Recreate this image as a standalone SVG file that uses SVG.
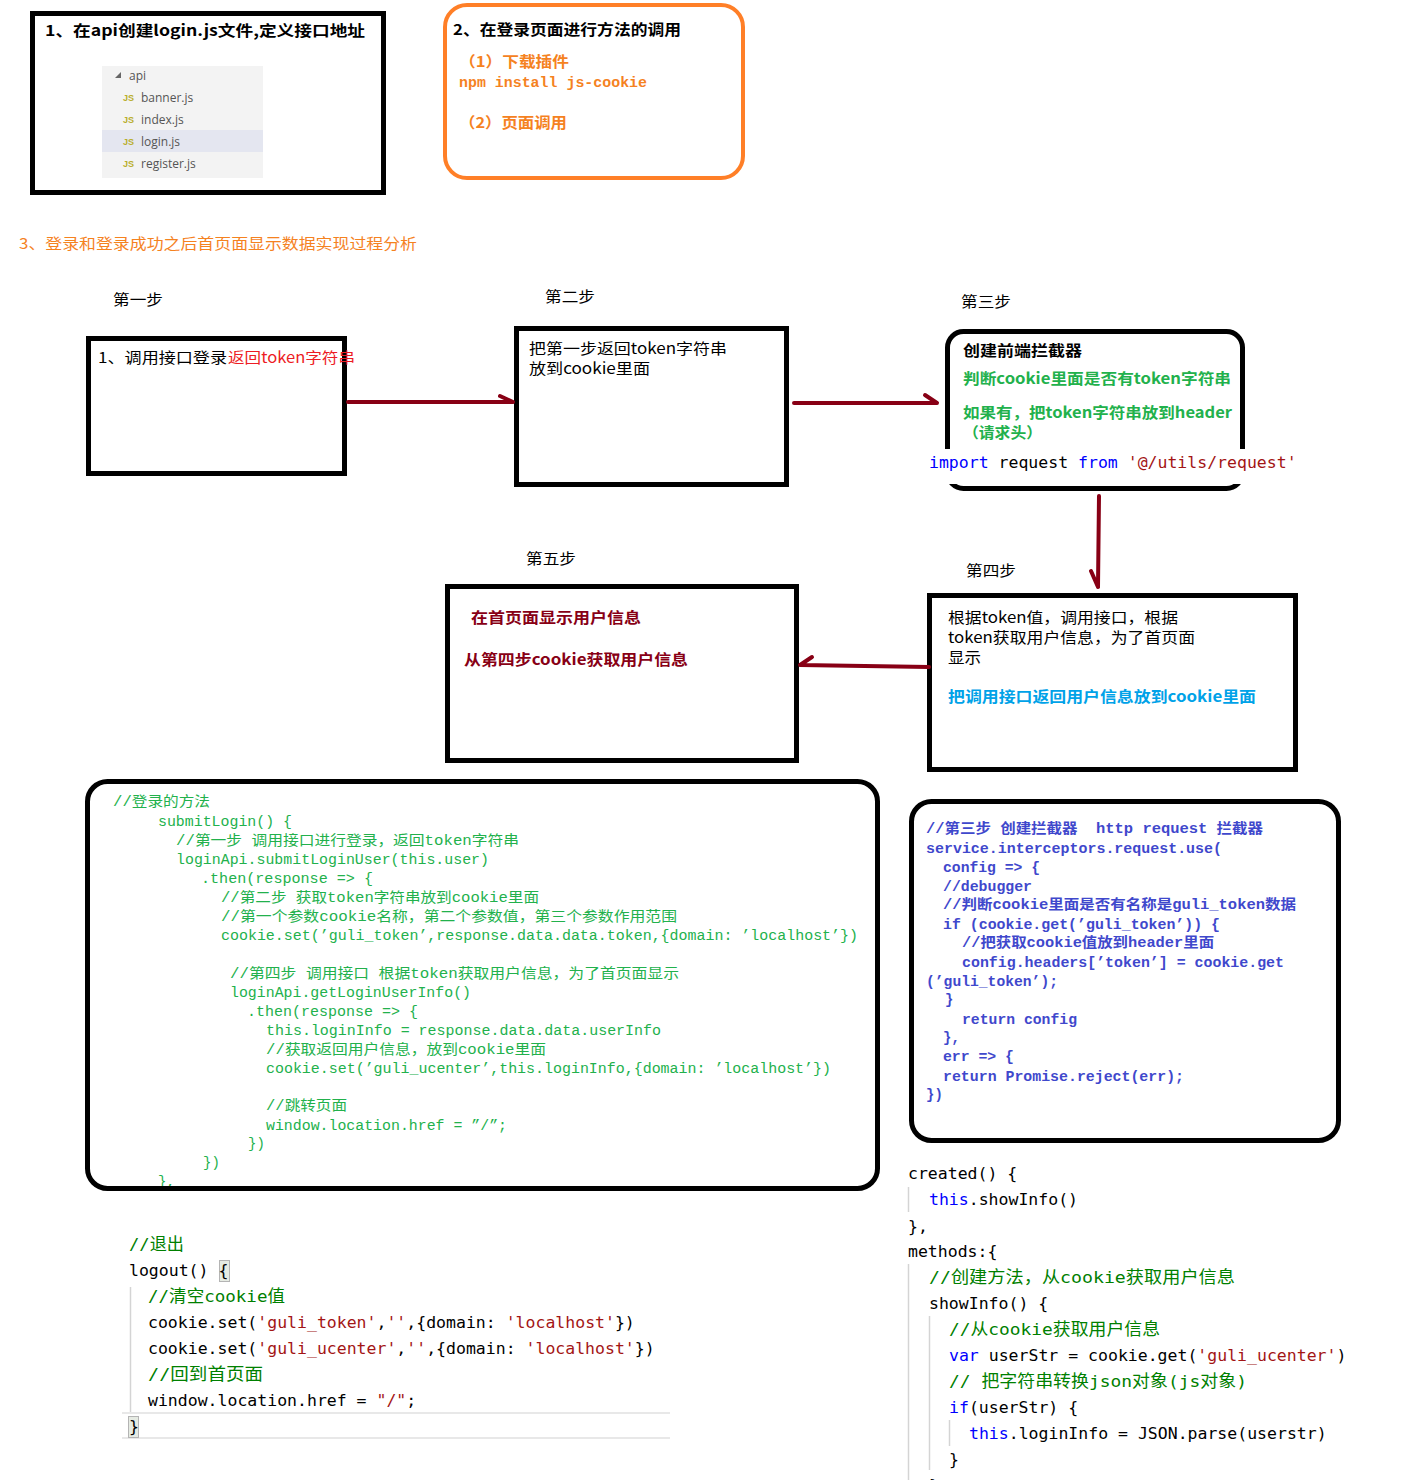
<svg xmlns="http://www.w3.org/2000/svg" width="1421" height="1480" viewBox="0 0 1421 1480">
<defs>
<style>
.cjk{font-family:"Noto Sans CJK SC","Liberation Sans",sans-serif;font-size:15px;}
.b{font-weight:700;}
.box{fill:none;stroke:#000;stroke-width:5;}
.step{font-family:"Noto Sans CJK SC","Liberation Sans",sans-serif;font-size:15px;}
.red{fill:#ed1c24;}
.dred{fill:#880015;}
.sky{fill:#00a2e8;}
.grn{fill:#22b14c;}
.org{fill:#f5821f;}
.tree{font-family:"Open Sans","Liberation Sans",sans-serif;font-size:12px;fill:#555;}
.jsi{font-family:"Liberation Sans",sans-serif;font-size:9px;font-weight:700;fill:#b9ae2c;}
.lc{font-family:"Liberation Mono","Noto Sans CJK SC",monospace;font-size:14px;fill:#22b14c;}
.rc{font-family:"Liberation Mono","Noto Sans CJK SC",monospace;font-size:14px;font-weight:700;fill:#3f48cc;}
.mono{font-family:"DejaVu Sans Mono","Liberation Mono","Noto Sans CJK SC",monospace;font-size:16.5px;fill:#000;}
.cm{fill:#008000;}
.str{fill:#a31515;}
.kw{fill:#0000ff;}
.guide{stroke:#d4d4d4;stroke-width:1.5;fill:none;}
.arr{stroke:#880015;stroke-width:4;stroke-linecap:round;fill:none;}
</style>
</defs>
<rect x="0" y="0" width="1421" height="1480" fill="#fff"/>

<g id="node-api-file">
<rect class="box" x="32.5" y="13.5" width="351" height="179"/>
<text class="cjk b" x="45" y="36" textLength="320" lengthAdjust="spacingAndGlyphs">1、在api创建login.js文件,定义接口地址</text>
<rect x="102" y="66" width="161" height="112" fill="#f3f3f3"/>
<rect x="102" y="130" width="161" height="22" fill="#e4e6f0"/>
<polygon points="121,72 121,78 115,78" fill="#666"/>
<text class="tree" x="129" y="80">api</text>
<text class="jsi" x="123" y="101">JS</text><text class="tree" x="141" y="102">banner.js</text>
<text class="jsi" x="123" y="123">JS</text><text class="tree" x="141" y="124">index.js</text>
<text class="jsi" x="123" y="145">JS</text><text class="tree" x="141" y="146">login.js</text>
<text class="jsi" x="123" y="167">JS</text><text class="tree" x="141" y="168">register.js</text>
</g>

<g id="node-page-call">
<rect x="445" y="5" width="298" height="173" rx="22" fill="none" stroke="#ff7f27" stroke-width="4"/>
<text class="cjk b" x="453" y="35" textLength="228" lengthAdjust="spacingAndGlyphs">2、在登录页面进行方法的调用</text>
<text class="cjk b org" x="459" y="67" textLength="110" lengthAdjust="spacingAndGlyphs">（1）下载插件</text>
<text class="org" x="459" y="87" font-family="Liberation Mono,monospace" font-size="14" font-weight="700" textLength="188" lengthAdjust="spacingAndGlyphs">npm install js-cookie</text>
<text class="cjk b org" x="459" y="128" textLength="108" lengthAdjust="spacingAndGlyphs">（2）页面调用</text>
</g>

<g id="heading">
<text class="cjk org" x="19" y="249" textLength="398" lengthAdjust="spacingAndGlyphs">3、登录和登录成功之后首页面显示数据实现过程分析</text>
<text class="step" x="113" y="305" textLength="50" lengthAdjust="spacingAndGlyphs">第一步</text>
<text class="step" x="545" y="302" textLength="50" lengthAdjust="spacingAndGlyphs">第二步</text>
<text class="step" x="961" y="307" textLength="50" lengthAdjust="spacingAndGlyphs">第三步</text>
<text class="step" x="966" y="576" textLength="50" lengthAdjust="spacingAndGlyphs">第四步</text>
<text class="step" x="526" y="564" textLength="50" lengthAdjust="spacingAndGlyphs">第五步</text>
</g>

<g id="node-step1">
<rect class="box" x="88.5" y="338.5" width="256" height="135"/>
<text class="step" x="98" y="363" textLength="129" lengthAdjust="spacingAndGlyphs">1、调用接口登录</text>
<text class="step red" x="228" y="363" textLength="127" lengthAdjust="spacingAndGlyphs">返回token字符串</text>
</g>

<g id="node-step2">
<rect class="box" x="516.5" y="328.5" width="270" height="156"/>
<text class="step" x="529" y="354" textLength="198" lengthAdjust="spacingAndGlyphs">把第一步返回token字符串</text>
<text class="step" x="529" y="374" textLength="121" lengthAdjust="spacingAndGlyphs">放到cookie里面</text>
</g>

<g id="node-step3">
<rect class="box" x="947.5" y="331.5" width="295" height="157" rx="16"/>
<rect x="924" y="449" width="378" height="35" fill="#fff"/>
<text class="cjk b" x="963" y="356" textLength="119" lengthAdjust="spacingAndGlyphs">创建前端拦截器</text>
<text class="cjk b grn" x="963" y="384" textLength="268" lengthAdjust="spacingAndGlyphs">判断cookie里面是否有token字符串</text>
<text class="cjk b grn" x="963" y="418" textLength="269" lengthAdjust="spacingAndGlyphs">如果有，把token字符串放到header</text>
<text class="cjk b grn" x="963" y="438" textLength="79" lengthAdjust="spacingAndGlyphs">（请求头）</text>
<text class="mono" x="929" y="468" xml:space="preserve"><tspan class="kw">import</tspan> request <tspan class="kw">from</tspan> <tspan class="str">'@/utils/request'</tspan></text>
</g>

<g id="node-step4">
<rect class="box" x="929.5" y="595.5" width="366" height="174"/>
<text class="step" x="948" y="623" textLength="230" lengthAdjust="spacingAndGlyphs">根据token值，调用接口，根据</text>
<text class="step" x="948" y="643" textLength="247" lengthAdjust="spacingAndGlyphs">token获取用户信息，为了首页面</text>
<text class="step" x="948" y="663" textLength="33" lengthAdjust="spacingAndGlyphs">显示</text>
<text class="step b sky" x="948" y="702" textLength="308" lengthAdjust="spacingAndGlyphs">把调用接口返回用户信息放到cookie里面</text>
</g>

<g id="node-step5">
<rect class="box" x="447.5" y="586.5" width="349" height="174"/>
<text class="step b dred" x="471" y="623" textLength="170" lengthAdjust="spacingAndGlyphs">在首页面显示用户信息</text>
<text class="step b dred" x="464" y="665" textLength="224" lengthAdjust="spacingAndGlyphs">从第四步cookie获取用户信息</text>
</g>

<g id="connectors">
<path class="arr" d="M348,402 L513,402 M513,402 L500,396"/>
<path class="arr" d="M794,403 L937,403 M937,403 L925,395"/>
<path class="arr" d="M1099,496 L1098,587 M1098,587 L1091,571"/>
<path class="arr" d="M929,667 L800,665 M800,665 L812,657"/>
</g>

<g id="node-login-code">
<text class="lc" x="113" y="806" textLength="97" lengthAdjust="spacingAndGlyphs">//登录的方法</text>
<text class="lc" x="158" y="826" textLength="134" lengthAdjust="spacingAndGlyphs">submitLogin() {</text>
<text class="lc" x="176" y="845" textLength="343" lengthAdjust="spacingAndGlyphs">//第一步 调用接口进行登录，返回token字符串</text>
<text class="lc" x="176" y="864" textLength="313" lengthAdjust="spacingAndGlyphs">loginApi.submitLoginUser(this.user)</text>
<text class="lc" x="201" y="883" textLength="172" lengthAdjust="spacingAndGlyphs">.then(response =&gt; {</text>
<text class="lc" x="221" y="902" textLength="318" lengthAdjust="spacingAndGlyphs">//第二步 获取token字符串放到cookie里面</text>
<text class="lc" x="221" y="921" textLength="456" lengthAdjust="spacingAndGlyphs">//第一个参数cookie名称，第二个参数值，第三个参数作用范围</text>
<text class="lc" x="221" y="940" textLength="637" lengthAdjust="spacingAndGlyphs">cookie.set(’guli_token’,response.data.data.token,{domain: ’localhost’})</text>
<text class="lc" x="230" y="978" textLength="449" lengthAdjust="spacingAndGlyphs">//第四步 调用接口 根据token获取用户信息，为了首页面显示</text>
<text class="lc" x="230" y="997" textLength="241" lengthAdjust="spacingAndGlyphs">loginApi.getLoginUserInfo()</text>
<text class="lc" x="247" y="1016" textLength="171" lengthAdjust="spacingAndGlyphs">.then(response =&gt; {</text>
<text class="lc" x="266" y="1035" textLength="395" lengthAdjust="spacingAndGlyphs">this.loginInfo = response.data.data.userInfo</text>
<text class="lc" x="266" y="1054" textLength="280" lengthAdjust="spacingAndGlyphs">//获取返回用户信息，放到cookie里面</text>
<text class="lc" x="266" y="1073" textLength="565" lengthAdjust="spacingAndGlyphs">cookie.set(’guli_ucenter’,this.loginInfo,{domain: ’localhost’})</text>
<text class="lc" x="266" y="1110" textLength="81" lengthAdjust="spacingAndGlyphs">//跳转页面</text>
<text class="lc" x="266" y="1130" textLength="241" lengthAdjust="spacingAndGlyphs">window.location.href = ”/”;</text>
<text class="lc" x="248" y="1148">})</text>
<text class="lc" x="203" y="1167">})</text>
<text class="lc" x="158" y="1186">},</text>
<rect class="box" x="87.5" y="781.5" width="790" height="407" rx="20"/>
</g>

<g id="node-interceptor-code">
<rect class="box" x="911.5" y="801.5" width="427" height="339" rx="20"/>
<text class="rc" x="926" y="833" textLength="337" lengthAdjust="spacingAndGlyphs" xml:space="preserve">//第三步 创建拦截器  http request 拦截器</text>
<text class="rc" x="926" y="853" textLength="296" lengthAdjust="spacingAndGlyphs">service.interceptors.request.use(</text>
<text class="rc" x="943" y="872" textLength="97" lengthAdjust="spacingAndGlyphs">config =&gt; {</text>
<text class="rc" x="943" y="891" textLength="89" lengthAdjust="spacingAndGlyphs">//debugger</text>
<text class="rc" x="943" y="909" textLength="353" lengthAdjust="spacingAndGlyphs">//判断cookie里面是否有名称是guli_token数据</text>
<text class="rc" x="943" y="929" textLength="277" lengthAdjust="spacingAndGlyphs">if (cookie.get(’guli_token’)) {</text>
<text class="rc" x="962" y="947" textLength="252" lengthAdjust="spacingAndGlyphs">//把获取cookie值放到header里面</text>
<text class="rc" x="962" y="967" textLength="322" lengthAdjust="spacingAndGlyphs">config.headers[’token’] = cookie.get</text>
<text class="rc" x="926" y="986" textLength="132" lengthAdjust="spacingAndGlyphs">(’guli_token’);</text>
<text class="rc" x="945" y="1004">}</text>
<text class="rc" x="962" y="1024" textLength="115" lengthAdjust="spacingAndGlyphs">return config</text>
<text class="rc" x="943" y="1042">},</text>
<text class="rc" x="943" y="1061" textLength="71" lengthAdjust="spacingAndGlyphs">err =&gt; {</text>
<text class="rc" x="943" y="1081" textLength="241" lengthAdjust="spacingAndGlyphs">return Promise.reject(err);</text>
<text class="rc" x="926" y="1099">})</text>
</g>

<g id="node-logout-code">
<line class="guide" x1="130.5" y1="1287" x2="130.5" y2="1413"/>
<line x1="122" y1="1413" x2="670" y2="1413" stroke="#e8e8e8" stroke-width="2"/>
<line x1="122" y1="1438" x2="670" y2="1438" stroke="#e8e8e8" stroke-width="2"/>
<rect x="219.5" y="1260.5" width="10" height="21" fill="#e6ebe3" stroke="#b4b4b4"/>
<rect x="128.5" y="1416.5" width="10" height="21" fill="#e6ebe3" stroke="#b4b4b4"/>
<text class="mono cm" x="129" y="1250" textLength="55" lengthAdjust="spacingAndGlyphs">//退出</text>
<text class="mono" x="129" y="1276" xml:space="preserve">logout() {</text>
<text class="mono cm" x="148" y="1302" textLength="137" lengthAdjust="spacingAndGlyphs">//清空cookie值</text>
<text class="mono" x="148" y="1328" xml:space="preserve">cookie.set(<tspan class="str">'guli_token'</tspan>,<tspan class="str">''</tspan>,{domain: <tspan class="str">'localhost'</tspan>})</text>
<text class="mono" x="148" y="1354" xml:space="preserve">cookie.set(<tspan class="str">'guli_ucenter'</tspan>,<tspan class="str">''</tspan>,{domain: <tspan class="str">'localhost'</tspan>})</text>
<text class="mono cm" x="148" y="1380" textLength="115" lengthAdjust="spacingAndGlyphs">//回到首页面</text>
<text class="mono" x="148" y="1406" xml:space="preserve">window.location.href = <tspan class="str">"/"</tspan>;</text>
<text class="mono" x="129" y="1432">}</text>
</g>

<g id="node-showinfo-code">
<line class="guide" x1="908.5" y1="1187" x2="908.5" y2="1212"/>
<line class="guide" x1="908.5" y1="1264" x2="908.5" y2="1480"/>
<line class="guide" x1="929.5" y1="1316" x2="929.5" y2="1470"/>
<line class="guide" x1="949.5" y1="1420" x2="949.5" y2="1446"/>
<text class="mono" x="908" y="1179">created() {</text>
<text class="mono" x="929" y="1205"><tspan class="kw">this</tspan>.showInfo()</text>
<text class="mono" x="908" y="1232">},</text>
<text class="mono" x="908" y="1257">methods:{</text>
<text class="mono cm" x="929" y="1283" textLength="306" lengthAdjust="spacingAndGlyphs">//创建方法，从cookie获取用户信息</text>
<text class="mono" x="929" y="1309">showInfo() {</text>
<text class="mono cm" x="949" y="1335" textLength="211" lengthAdjust="spacingAndGlyphs">//从cookie获取用户信息</text>
<text class="mono" x="949" y="1361" xml:space="preserve"><tspan class="kw">var</tspan> userStr = cookie.get(<tspan class="str">'guli_ucenter'</tspan>)</text>
<text class="mono cm" x="949" y="1387" textLength="298" lengthAdjust="spacingAndGlyphs" xml:space="preserve">// 把字符串转换json对象(js对象)</text>
<text class="mono" x="949" y="1413" xml:space="preserve"><tspan class="kw">if</tspan>(userStr) {</text>
<text class="mono" x="969" y="1439" xml:space="preserve"><tspan class="kw">this</tspan>.loginInfo = JSON.parse(userstr)</text>
<text class="mono" x="949" y="1465">}</text>
<text class="mono" x="929" y="1491">}</text>
</g>
</svg>
